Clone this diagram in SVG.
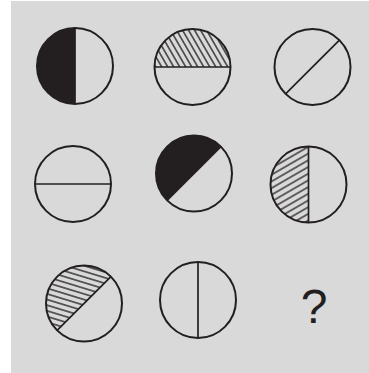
<svg xmlns="http://www.w3.org/2000/svg" width="369" height="373" viewBox="0 0 369 373">
<style>
.c{fill:none;stroke:#231f20;stroke-width:2}
.l{stroke:#231f20;stroke-width:1.7;fill:none}
.b{fill:#231f20;stroke:none}
</style>
<defs>
<pattern id="h1" width="10" height="5.2" patternUnits="userSpaceOnUse" patternTransform="rotate(60)"><line x1="0" y1="2.6" x2="10" y2="2.6" stroke="#231f20" stroke-width="1.3"/></pattern>
<pattern id="h2" width="10" height="5.8" patternUnits="userSpaceOnUse" patternTransform="rotate(-30)"><line x1="0" y1="2.9" x2="10" y2="2.9" stroke="#231f20" stroke-width="1.3"/></pattern>
<pattern id="h3" width="10" height="5.4" patternUnits="userSpaceOnUse" patternTransform="rotate(17)"><line x1="0" y1="2.7" x2="10" y2="2.7" stroke="#231f20" stroke-width="1.3"/></pattern>
</defs>
<rect x="0" y="0" width="369" height="373" fill="#ffffff"/>
<rect x="11" y="1" width="358" height="372" fill="#d9d9d9"/>
<g id="n1"><path class="b" d="M75,28 A38,38 0 0 0 75,104 Z"/><circle class="c" cx="75" cy="66" r="38"/><line class="l" x1="75" y1="28" x2="75" y2="104"/></g>
<g id="n2"><path d="M154.5,67 A38,38 0 0 1 230.5,67 Z" fill="url(#h1)"/><circle class="c" cx="192.5" cy="67" r="38"/><line class="l" x1="154.5" y1="67" x2="230.5" y2="67"/></g>
<g id="n3"><circle class="c" cx="312.5" cy="67" r="38"/><line class="l" x1="339.4" y1="40.1" x2="285.6" y2="93.9"/></g>
<g id="n4"><circle class="c" cx="73" cy="184" r="38"/><line class="l" x1="35" y1="184" x2="111" y2="184"/></g>
<g id="n5"><path class="b" d="M220.9,146.6 A38,38 0 0 0 167.1,200.4 Z"/><circle class="c" cx="194" cy="173.5" r="38"/><line class="l" x1="220.9" y1="146.6" x2="167.1" y2="200.4"/></g>
<g id="n6"><path d="M308.5,146.5 A38,38 0 0 0 308.5,222.5 Z" fill="url(#h2)"/><circle class="c" cx="308.5" cy="184.5" r="38"/><line class="l" x1="308.5" y1="146.5" x2="308.5" y2="222.5"/></g>
<g id="n7"><path d="M110.9,276.6 A38,38 0 0 0 57.1,330.4 Z" fill="url(#h3)"/><circle class="c" cx="84" cy="303.5" r="38"/><line class="l" x1="110.9" y1="276.6" x2="57.1" y2="330.4"/></g>
<g id="n8"><circle class="c" cx="198" cy="300" r="38"/><line class="l" x1="198" y1="262" x2="198" y2="338"/></g>
<g id="n9"><text x="314" y="323" font-family="Liberation Sans, Arial, sans-serif" font-size="48" text-anchor="middle" fill="#231f20">?</text></g>
</svg>
